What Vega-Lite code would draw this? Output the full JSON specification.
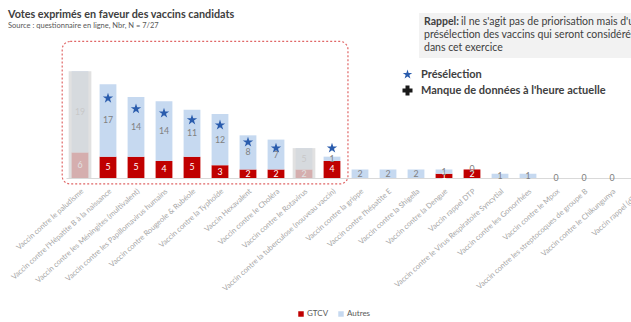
{
 "$schema": "https://vega.github.io/schema/vega-lite/v6.json",
 "width": 588,
 "height": 128,
 "autosize": {"type": "none"},
 "padding": {"left": 66, "top": 50, "right": 0, "bottom": 144},
 "background": "white",
 "config": {"view": {"stroke": null}, "font": "Lato"},
 "title": {
  "text": "Votes exprimés en faveur des vaccins candidats",
  "subtitle": "Source : questionnaire en ligne, Nbr, N = 7/27",
  "anchor": "start", "frame": "group", "dx": -58, "offset": -16,
  "font": "Lato", "fontSize": 10.8, "fontWeight": "bold", "color": "#404040",
  "subtitleFont": "Lato", "subtitleFontSize": 7.5, "subtitleColor": "#595959", "subtitlePadding": 2
 },
 "data": {"values": [
  {"vaccin": "Vaccin contre le paludisme", "GTCV": 6, "Autres": 19, "grise": true},
  {"vaccin": "Vaccin contre l'Hépatite B à la naissance", "GTCV": 5, "Autres": 17, "etoile": 18.7, "repere": "Présélection"},
  {"vaccin": "Vaccin contre les Méningites (multivalent)", "GTCV": 5, "Autres": 14, "etoile": 16.2, "repere": "Présélection"},
  {"vaccin": "Vaccin contre les Papillomavirus humains", "GTCV": 4, "Autres": 14, "etoile": 15.2, "repere": "Présélection"},
  {"vaccin": "Vaccin contre Rougeole & Rubéole", "GTCV": 5, "Autres": 11, "etoile": 13.6, "repere": "Présélection"},
  {"vaccin": "Vaccin contre la Typhoïde", "GTCV": 3, "Autres": 12, "etoile": 12.4, "repere": "Présélection"},
  {"vaccin": "Vaccin Hexavalent", "GTCV": 2, "Autres": 8, "etoile": 8.4, "repere": "Présélection"},
  {"vaccin": "Vaccin contre le Choléra", "GTCV": 2, "Autres": 7, "etoile": 7.0, "repere": "Présélection"},
  {"vaccin": "Vaccin contre le Rotavirus", "GTCV": 2, "Autres": 5, "grise": true},
  {"vaccin": "Vaccin contre la tuberculose (nouveau vaccin)", "GTCV": 4, "Autres": 1, "etoile": 7.0, "repere": "Présélection"},
  {"vaccin": "Vaccin contre la grippe", "GTCV": 0, "Autres": 2},
  {"vaccin": "Vaccin contre l'hépatite E", "GTCV": 0, "Autres": 2},
  {"vaccin": "Vaccin contre la Shigella", "GTCV": 0, "Autres": 2},
  {"vaccin": "Vaccin contre la Dengue", "GTCV": 1, "Autres": 1},
  {"vaccin": "Vaccin rappel DTP", "GTCV": 2, "Autres": 0},
  {"vaccin": "Vaccin contre le Virus Respiratoire Syncytial", "GTCV": 0, "Autres": 1},
  {"vaccin": "Vaccin contre les Gonorrhées", "GTCV": 0, "Autres": 1},
  {"vaccin": "Vaccin contre le Mpox", "GTCV": 0, "Autres": 0},
  {"vaccin": "Vaccin contre les streptocoques de groupe B", "GTCV": 0, "Autres": 0},
  {"vaccin": "Vaccin contre le Chikungunya", "GTCV": 0, "Autres": 0},
  {"vaccin": "Vaccin rappel (dTCa)", "GTCV": 0, "Autres": 0}
 ]},
 "encoding": {
  "x": {"field": "vaccin", "type": "nominal", "sort": null,
   "scale": {"paddingInner": 0.4, "paddingOuter": 0.2},
   "axis": {"title": null, "labelAngle": -42, "labelFontSize": 7.5, "labelColor": "#a6a6a6", "labelFont": "Lato",
    "ticks": false, "domainColor": "#d9d9d9", "labelPadding": 9}}
 },
 "layer": [
  {
   "transform": [{"fold": ["GTCV", "Autres"], "as": ["serie", "votes"]}],
   "mark": {"type": "bar"},
   "encoding": {
    "y": {"field": "votes", "type": "quantitative", "stack": "zero", "scale": {"domain": [0, 30]}, "axis": null},
    "color": {"field": "serie", "type": "nominal",
     "scale": {"domain": ["GTCV", "Autres"], "range": ["#c00000", "#c6d9f0"]},
     "legend": {"title": null, "orient": "none", "direction": "horizontal", "legendX": 231, "legendY": 260,
      "symbolType": "square", "symbolSize": 30, "symbolStrokeWidth": 0, "labelFontSize": 8, "labelColor": "#595959",
      "labelFont": "Lato", "columnPadding": 8, "labelOffset": 2, "padding": 0}},
    "order": {"field": "serie", "sort": "descending"}
   }
  },
  {
   "transform": [{"fold": ["GTCV", "Autres"], "as": ["serie", "votes"]},
    {"filter": "datum.serie == 'Autres' || datum.votes > 0"}],
   "mark": {"type": "text", "fontSize": 8.8, "font": "Lato", "baseline": "middle"},
   "encoding": {
    "y": {"field": "votes", "type": "quantitative", "stack": "zero", "bandPosition": 0.5},
    "detail": {"field": "serie"},
    "order": {"field": "serie", "sort": "descending"},
    "text": {"field": "votes", "type": "quantitative"},
    "color": {"condition": {"test": "datum.serie == 'GTCV'", "value": "white"}, "value": "#808080"}
   }
  },
  {
   "transform": [{"filter": "datum.grise"}, {"fold": ["GTCV", "Autres"], "as": ["serie", "votes"]},
    {"aggregate": [{"op": "sum", "field": "votes", "as": "total"}], "groupby": ["vaccin"]}],
   "mark": {"type": "bar", "color": "#d9d9d9", "opacity": 0.8, "width": {"band": 1.35}},
   "encoding": {"y": {"field": "total", "type": "quantitative"}}
  },
  {
   "transform": [{"filter": "datum.etoile != null"}],
   "mark": {"type": "point", "filled": true, "size": 120, "opacity": 1, "strokeWidth": 0},
   "encoding": {
    "y": {"field": "etoile", "type": "quantitative"},
    "shape": {"field": "repere", "type": "nominal",
     "scale": {"domain": ["Présélection", "Manque de données à l'heure actuelle"],
      "range": ["M0,-1L0.2245,-0.309L0.951,-0.309L0.363,0.118L0.588,0.809L0,0.382L-0.588,0.809L-0.363,0.118L-0.951,-0.309L-0.2245,-0.309Z", "cross"]},
     "legend": {"title": null, "orient": "none", "legendX": 336, "legendY": 19, "padding": 0, "symbolSize": 100,
      "labelFontSize": 11, "labelFont": "Lato", "labelFontWeight": "bold", "labelColor": "#404040", "labelOffset": 8,
      "rowPadding": 4, "labelLimit": 400, "symbolStrokeWidth": 0}},
    "fill": {"field": "repere", "type": "nominal",
     "scale": {"domain": ["Présélection", "Manque de données à l'heure actuelle"], "range": ["#2a5cad", "#1a1a1a"]},
     "legend": {"title": null, "orient": "none", "legendX": 336, "legendY": 19, "padding": 0, "symbolSize": 100,
      "labelFontSize": 11, "labelFont": "Lato", "labelFontWeight": "bold", "labelColor": "#404040", "labelOffset": 8,
      "rowPadding": 4, "labelLimit": 400, "symbolStrokeWidth": 0}}
   }
  },
  {
   "data": {"values": [{}]},
   "mark": {"type": "rect", "filled": false, "stroke": "#e06666", "strokeDash": [2, 2], "strokeWidth": 1.2, "cornerRadius": 8},
   "encoding": {
    "x": {"datum": "Vaccin contre le paludisme", "type": "nominal", "bandPosition": -0.56},
    "x2": {"datum": "Vaccin contre la tuberculose (nouveau vaccin)", "bandPosition": 1.45},
    "y": {"datum": 32, "type": "quantitative"},
    "y2": {"datum": -1.4}
   }
  },
  {
   "data": {"values": [{}]},
   "mark": {"type": "rect", "color": "#f2f2f2"},
   "encoding": {
    "x": {"datum": "Vaccin contre la Shigella", "type": "nominal", "bandPosition": 0.68},
    "x2": {"datum": "Vaccin rappel (dTCa)", "bandPosition": 2},
    "y": {"datum": 38.67, "type": "quantitative"},
    "y2": {"datum": 28.1}
   }
  },
  {
   "data": {"values": [{}]},
   "mark": {"type": "text", "align": "left", "baseline": "middle", "fontSize": 10.5, "fontWeight": "bold", "color": "#404040"},
   "encoding": {
    "x": {"datum": "Vaccin contre la Shigella", "type": "nominal", "bandPosition": 0.976},
    "y": {"datum": 36.56, "type": "quantitative"},
    "text": {"value": "Rappel:"}
   }
  },
  {
   "data": {"values": [{}]},
   "mark": {"type": "text", "align": "left", "baseline": "middle", "fontSize": 10.5, "color": "#404040", "dx": 37},
   "encoding": {
    "x": {"datum": "Vaccin contre la Shigella", "type": "nominal", "bandPosition": 0.976},
    "y": {"datum": 36.56, "type": "quantitative"},
    "text": {"value": "il ne s'agit pas de priorisation mais d'une"}
   }
  },
  {
   "data": {"values": [{}]},
   "mark": {"type": "text", "align": "left", "baseline": "middle", "fontSize": 10.5, "color": "#404040"},
   "encoding": {
    "x": {"datum": "Vaccin contre la Shigella", "type": "nominal", "bandPosition": 0.976},
    "y": {"datum": 33.52, "type": "quantitative"},
    "text": {"value": "présélection des vaccins qui seront considérés"}
   }
  },
  {
   "data": {"values": [{}]},
   "mark": {"type": "text", "align": "left", "baseline": "middle", "fontSize": 10.5, "color": "#404040"},
   "encoding": {
    "x": {"datum": "Vaccin contre la Shigella", "type": "nominal", "bandPosition": 0.976},
    "y": {"datum": 30.47, "type": "quantitative"},
    "text": {"value": "dans cet exercice"}
   }
  }
 ]
}
